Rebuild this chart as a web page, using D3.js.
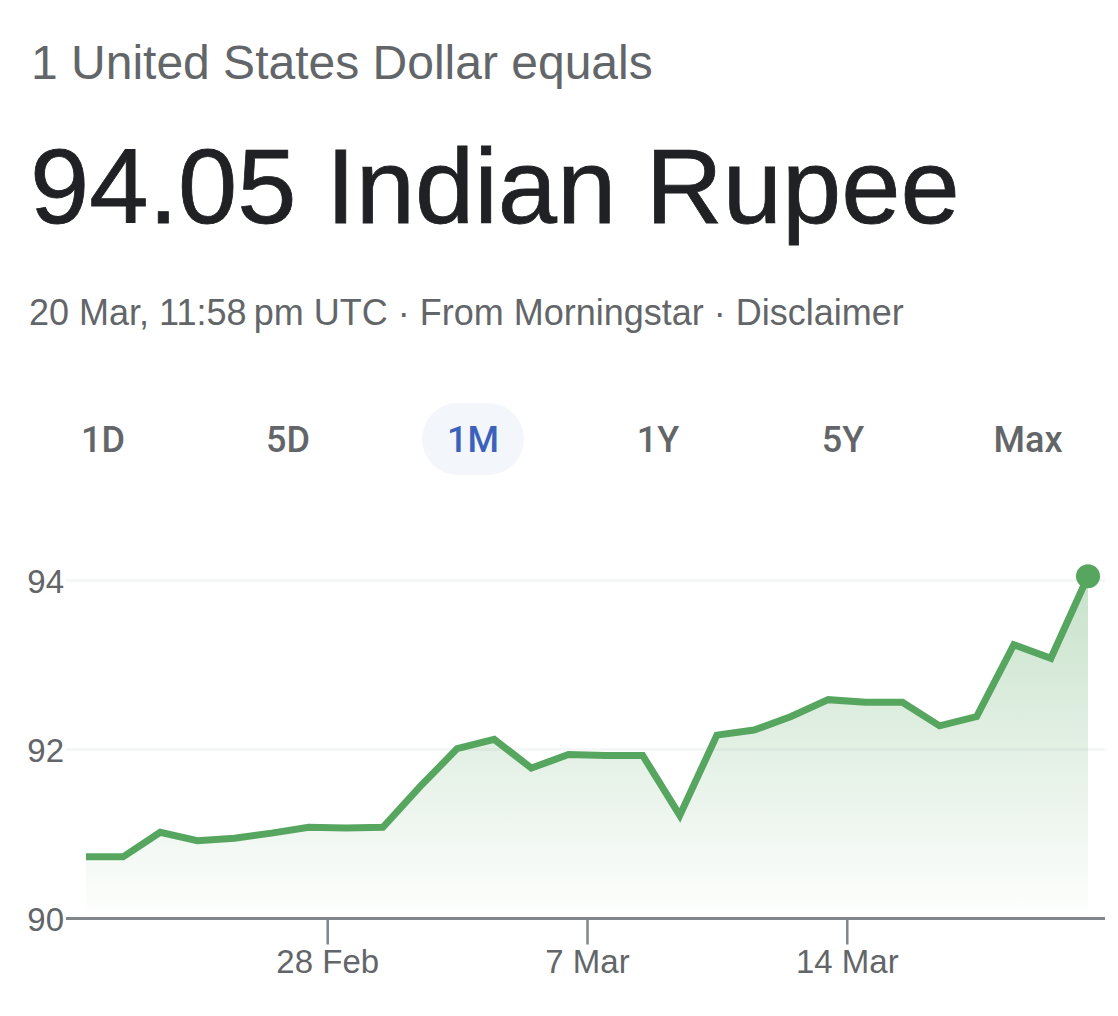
<!DOCTYPE html>
<html>
<head>
<meta charset="utf-8">
<script src="https://cdn.jsdelivr.net/npm/d3@7"></script>
<style>
  html, body { margin: 0; padding: 0; background: #fff; }
  text { font-family: "Liberation Sans", Arial, sans-serif; }
</style>
</head>
<body>
<div id="chart"></div>
<script>
const dates = ["2026-02-21","2026-02-22","2026-02-23","2026-02-24","2026-02-25","2026-02-26","2026-02-27",
  "2026-02-28","2026-03-01","2026-03-02","2026-03-03","2026-03-04","2026-03-05","2026-03-06",
  "2026-03-07","2026-03-08","2026-03-09","2026-03-10","2026-03-11","2026-03-12","2026-03-13",
  "2026-03-14","2026-03-15","2026-03-16","2026-03-17","2026-03-18","2026-03-19","2026-03-20"];
const rates = [90.73,90.73,91.02,90.92,90.95,91.01,91.08,
  91.07,91.08,91.56,92.01,92.12,91.78,91.94,
  91.93,91.93,91.22,92.17,92.23,92.39,92.59,
  92.56,92.56,92.28,92.39,93.24,93.08,94.05];
const yTicks = [90, 92, 94];
const xTickDates = ["2026-02-28","2026-03-07","2026-03-14"];
const xTickLabels = ["28 Feb","7 Mar","14 Mar"];
const ranges = ["1D","5D","1M","1Y","5Y","Max"];
const activeRange = "1M";

const width = 1118, height = 1016;
const green = "#57a660", grey = "#636669";

const parseDay = d3.utcParse("%Y-%m-%d");
// each close sits at midday, the axis ticks mark midnight
const data = dates.map((d, i) => ({ date: d3.utcHour.offset(parseDay(d), 12), rate: rates[i] }));

const x = d3.scaleUtc().domain(d3.extent(data, d => d.date)).range([86, 1088]);
const y = d3.scaleLinear().domain([90, 94]).range([918.5, 580.5]);

const svg = d3.select("#chart").append("svg")
  .attr("width", width).attr("height", height)
  .style("display", "block");

// header texts
svg.append("text").attr("x", 31).attr("y", 79)
  .attr("font-size", 48).attr("fill", grey)
  .text("1 United States Dollar equals");
svg.append("text").attr("x", 30).attr("y", 223)
  .attr("font-size", 106.5).attr("fill", "#202124")
  .attr("stroke", "#202124").attr("stroke-width", 0.8)
  .text("94.05 Indian Rupee");
svg.append("text").attr("x", 29).attr("y", 324.5)
  .attr("font-size", 36).attr("fill", grey)
  .text("20 Mar, 11:58\u202Fpm UTC · From Morningstar · Disclaimer");

// range tabs
const tabX = d3.scalePoint().domain(ranges).range([103, 1028]);
svg.append("rect")
  .attr("x", tabX(activeRange) - 51).attr("y", 403)
  .attr("width", 102).attr("height", 72).attr("rx", 36)
  .attr("fill", "#f3f6fa");
svg.selectAll(".tab").data(ranges).join("text")
  .attr("class", "tab")
  .attr("x", d => tabX(d)).attr("y", 451.5)
  .attr("text-anchor", "middle")
  .attr("font-size", 36).attr("font-weight", 500)
  .style("font-family", "Roboto")
  .attr("fill", d => d === activeRange ? "#3c61bd" : grey)
  .text(d => d);

// area fill
const grad = svg.append("defs").append("linearGradient")
  .attr("id", "fade").attr("x1", 0).attr("x2", 0).attr("y1", 0).attr("y2", 1);
grad.append("stop").attr("offset", "0%").attr("stop-color", green).attr("stop-opacity", 0.33);
grad.append("stop").attr("offset", "100%").attr("stop-color", green).attr("stop-opacity", 0.01);

svg.append("path").datum(data)
  .attr("fill", "url(#fade)")
  .attr("d", d3.area().x(d => x(d.date)).y0(y(90) - 4).y1(d => y(d.rate)));

// y axis and gridlines
const yAxis = svg.append("g")
  .attr("transform", "translate(66,0)")
  .call(d3.axisLeft(y).tickValues(yTicks).tickFormat(d3.format("d")).tickSize(0).tickPadding(2));
yAxis.select(".domain").remove();
yAxis.selectAll("text")
  .attr("font-size", 33).attr("fill", grey).attr("dy", "0.36em")
  .style("font-family", "'Liberation Sans'");
svg.selectAll(".grid").data(yTicks.slice(1)).join("line")
  .attr("class", "grid")
  .attr("x1", 66).attr("x2", 1105)
  .attr("y1", d => y(d)).attr("y2", d => y(d))
  .attr("stroke", "#80868b").attr("stroke-opacity", 0.08).attr("stroke-width", 3);

// x axis
const xAxis = svg.append("g")
  .attr("transform", `translate(0,${y(90)})`)
  .call(d3.axisBottom(x)
    .tickValues(xTickDates.map(parseDay))
    .tickFormat((d, i) => xTickLabels[i])
    .tickSize(26).tickPadding(5).tickSizeOuter(0));
xAxis.select(".domain").attr("d", "M66,0H1105").attr("stroke", "#80868b").attr("stroke-width", 3);
xAxis.selectAll(".tick line").attr("stroke", "#80868b").attr("stroke-width", 2.5);
xAxis.selectAll("text")
  .attr("font-size", 33).attr("fill", grey)
  .style("font-family", "'Liberation Sans'");

// price line and last point
svg.append("path").datum(data)
  .attr("fill", "none").attr("stroke", green).attr("stroke-width", 7)
  .attr("stroke-linejoin", "miter")
  .attr("d", d3.line().x(d => x(d.date)).y(d => y(d.rate)));
const last = data[data.length - 1];
svg.append("circle")
  .attr("cx", x(last.date)).attr("cy", y(last.rate)).attr("r", 12)
  .attr("fill", green);
</script>
</body>
</html>
